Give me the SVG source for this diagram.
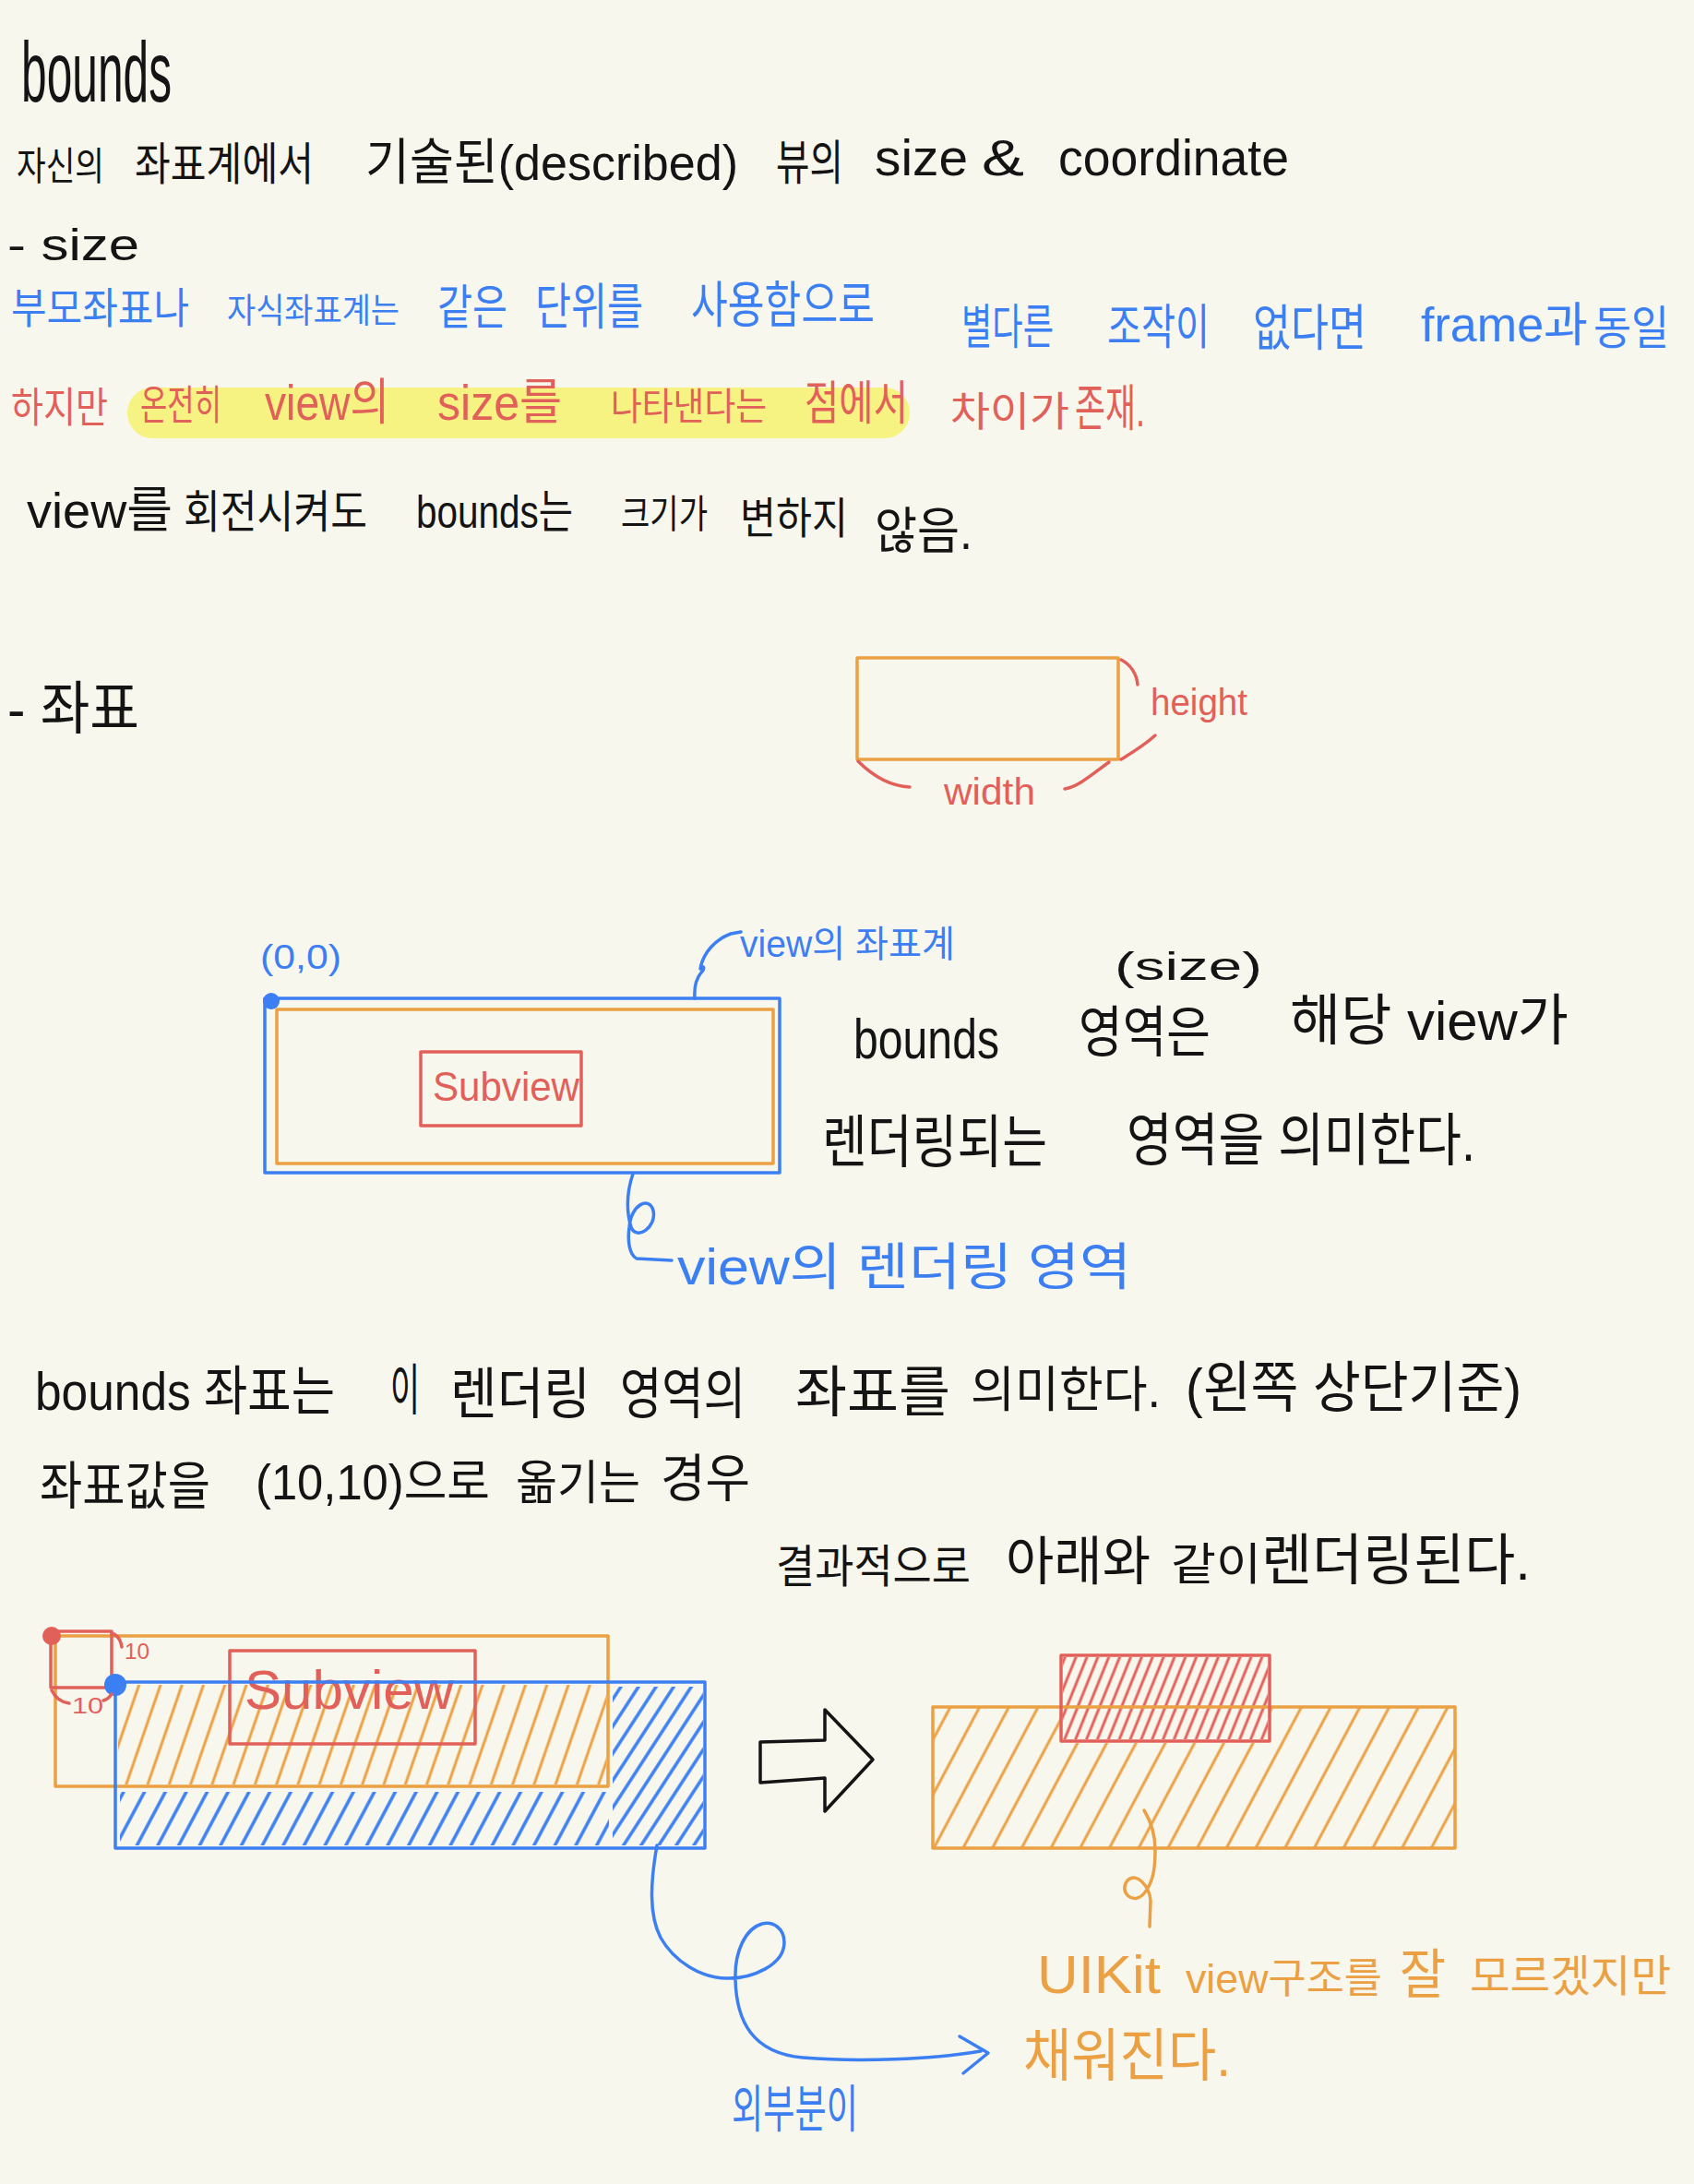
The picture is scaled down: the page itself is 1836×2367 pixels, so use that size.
<svg xmlns="http://www.w3.org/2000/svg" width="1836" height="2367" viewBox="0 0 1836 2367">
<style>
text{font-family:"Liberation Sans","Noto Sans CJK KR","Noto Sans",sans-serif;}
.k{fill:#141414}.b{fill:#3b7ff2}.r{fill:#e2605a}.o{fill:#eaa043}
.sb{fill:none;stroke:#3b7ff2;stroke-width:3.5;stroke-linecap:round;stroke-linejoin:round}
.sr{fill:none;stroke:#e2605a;stroke-width:3.5;stroke-linecap:round;stroke-linejoin:round}
.so{fill:none;stroke:#eaa043;stroke-width:3.5;stroke-linecap:round;stroke-linejoin:round}
.sk{fill:none;stroke:#141414;stroke-width:3.5;stroke-linecap:round;stroke-linejoin:round}
.hl{fill:#f6f383}
</style>
<defs>
<pattern id="hO1" patternUnits="userSpaceOnUse" width="22" height="200" patternTransform="rotate(19)"><line x1="11" y1="0" x2="11" y2="200" stroke="#eaa043" stroke-width="3"/></pattern>
<pattern id="hO2" patternUnits="userSpaceOnUse" width="28" height="200" patternTransform="rotate(28)"><line x1="14" y1="0" x2="14" y2="200" stroke="#eaa043" stroke-width="3"/></pattern>
<pattern id="hR" patternUnits="userSpaceOnUse" width="11" height="200" patternTransform="rotate(22)"><line x1="5" y1="0" x2="5" y2="200" stroke="#e2605a" stroke-width="3"/></pattern>
<pattern id="hB1" patternUnits="userSpaceOnUse" width="20" height="200" patternTransform="rotate(28)"><line x1="10" y1="0" x2="10" y2="200" stroke="#3b7ff2" stroke-width="3.5"/></pattern>
<pattern id="hB2" patternUnits="userSpaceOnUse" width="16" height="200" patternTransform="rotate(33)"><line x1="8" y1="0" x2="8" y2="200" stroke="#3b7ff2" stroke-width="3.5"/></pattern>
</defs>
<rect x="0" y="0" width="1836" height="2367" fill="#f8f7ed"/>

<g id="title">
<text class="k" x="23" y="110" font-size="92" textLength="163" lengthAdjust="spacingAndGlyphs">bounds</text>
</g>
<g id="line-definition">
<text class="k" font-size="54" y="195"><tspan x="18" font-size="42" textLength="95" lengthAdjust="spacingAndGlyphs">자신의</tspan><tspan x="146" font-size="49" textLength="194" lengthAdjust="spacingAndGlyphs">좌표계에서</tspan><tspan x="396" textLength="404" lengthAdjust="spacingAndGlyphs">기술된(described)</tspan><tspan x="841" font-size="52" textLength="73" lengthAdjust="spacingAndGlyphs">뷰의</tspan><tspan x="948" y="190" font-size="55" textLength="101" lengthAdjust="spacingAndGlyphs">size</tspan><tspan x="1064" y="190" font-size="55" textLength="46" lengthAdjust="spacingAndGlyphs">&amp;</tspan><tspan x="1147" y="190" font-size="55" textLength="250" lengthAdjust="spacingAndGlyphs">coordinate</tspan></text>
</g>
<g id="size-heading">
<text class="k" x="8" y="282" font-size="48" textLength="143" lengthAdjust="spacingAndGlyphs">- size</text>
</g>
<g id="size-blue">
<text class="b" font-size="52" y="350"><tspan x="12" font-size="46" textLength="193" lengthAdjust="spacingAndGlyphs">부모좌표나</tspan><tspan x="246" font-size="37" textLength="187" lengthAdjust="spacingAndGlyphs">자식좌표계는</tspan><tspan x="474" y="352" textLength="76" lengthAdjust="spacingAndGlyphs">같은</tspan><tspan x="580" y="352" font-size="54" textLength="117" lengthAdjust="spacingAndGlyphs">단위를</tspan><tspan x="749" y="350" font-size="54" textLength="199" lengthAdjust="spacingAndGlyphs">사용함으로</tspan><tspan x="1042" y="373" textLength="100" lengthAdjust="spacingAndGlyphs">별다른</tspan><tspan x="1200" y="373" textLength="111" lengthAdjust="spacingAndGlyphs">조작이</tspan><tspan x="1358" y="375" font-size="54" textLength="123" lengthAdjust="spacingAndGlyphs">없다면</tspan><tspan x="1540" y="370" font-size="51" textLength="181" lengthAdjust="spacingAndGlyphs">frame과</tspan><tspan x="1727" y="373" textLength="82" lengthAdjust="spacingAndGlyphs" font-size="50">동일</tspan></text>
</g>
<g id="size-red">
<rect class="hl" x="138" y="420" width="848" height="55" rx="27"/>
<text class="r" font-size="54" y="455"><tspan x="12" y="458" font-size="45" textLength="105" lengthAdjust="spacingAndGlyphs">하지만</tspan><tspan x="152" y="455" font-size="44" textLength="88" lengthAdjust="spacingAndGlyphs">온전히</tspan><tspan x="287" textLength="135" lengthAdjust="spacingAndGlyphs">view의</tspan><tspan x="474" textLength="135" lengthAdjust="spacingAndGlyphs">size를</tspan><tspan x="662" font-size="41" textLength="169" lengthAdjust="spacingAndGlyphs">나타낸다는</tspan><tspan x="872" font-size="51" textLength="112" lengthAdjust="spacingAndGlyphs">점에서</tspan><tspan x="1030" y="462" font-size="44" textLength="129" lengthAdjust="spacingAndGlyphs">차이가</tspan><tspan x="1165" y="462" textLength="76" lengthAdjust="spacingAndGlyphs">존재.</tspan></text>
</g>
<g id="rotate-line">
<text class="k" font-size="54" y="572"><tspan x="29" textLength="158" lengthAdjust="spacingAndGlyphs">view를</tspan><tspan x="199" font-size="49" textLength="199" lengthAdjust="spacingAndGlyphs">회전시켜도</tspan><tspan x="451" font-size="50" textLength="170" lengthAdjust="spacingAndGlyphs">bounds는</tspan><tspan x="673" font-size="42" textLength="94" lengthAdjust="spacingAndGlyphs">크기가</tspan><tspan x="802" y="578" font-size="47" textLength="117" lengthAdjust="spacingAndGlyphs">변하지</tspan><tspan x="948" y="595" textLength="106" lengthAdjust="spacingAndGlyphs">않음.</tspan></text>
</g>
<g id="coord-heading">
<text class="k" x="8" y="790" font-size="62" textLength="143" lengthAdjust="spacingAndGlyphs">- 좌표</text>
</g>

<g id="size-box">
<rect class="so" x="929" y="713" width="283" height="110" stroke-width="3"/>
<text class="r" x="1247" y="775" font-size="40" textLength="105" lengthAdjust="spacingAndGlyphs">height</text>
<text class="r" x="1023" y="872" font-size="40" textLength="99" lengthAdjust="spacingAndGlyphs">width</text>
</g>

<g id="view-diagram">
<rect class="sb" x="287" y="1082" width="558" height="189" stroke-width="3"/>
<rect class="so" x="300" y="1094" width="538" height="167" stroke-width="3"/>
<rect class="sr" x="456" y="1140" width="174" height="80" stroke-width="3"/>
<text class="r" x="469" y="1193" font-size="44" textLength="159" lengthAdjust="spacingAndGlyphs">Subview</text>
<circle cx="294" cy="1085" r="9" fill="#3b7ff2"/>
<text class="b" x="282" y="1050" font-size="36" textLength="88" lengthAdjust="spacingAndGlyphs">(0,0)</text>
<text class="b" x="802" y="1037" font-size="40" textLength="233" lengthAdjust="spacingAndGlyphs">view의 좌표계</text>
<text class="b" x="734" y="1392" font-size="55" textLength="492" lengthAdjust="spacingAndGlyphs">view의 렌더링 영역</text>
</g>
<g id="bounds-desc">
<text class="k" x="1208" y="1062" font-size="42" textLength="160" lengthAdjust="spacingAndGlyphs">(size)</text>
<text class="k" font-size="60" y="1140"><tspan x="925" y="1147" font-size="62" textLength="158" lengthAdjust="spacingAndGlyphs">bounds</tspan><tspan x="1169" y="1140" textLength="143" lengthAdjust="spacingAndGlyphs">영역은</tspan><tspan x="1398" y="1127" textLength="302" lengthAdjust="spacingAndGlyphs">해당 view가</tspan></text>
<text class="k" font-size="62" y="1260"><tspan x="891" textLength="244" lengthAdjust="spacingAndGlyphs">렌더링되는</tspan><tspan x="1221" y="1258" textLength="378" lengthAdjust="spacingAndGlyphs">영역을 의미한다.</tspan></text>
</g>

<g id="coord-desc">
<text class="k" font-size="60" y="1528"><tspan x="38" font-size="58" textLength="325" lengthAdjust="spacingAndGlyphs">bounds 좌표는</tspan><tspan x="423" textLength="32" lengthAdjust="spacingAndGlyphs">이</tspan><tspan x="488" y="1532" textLength="152" lengthAdjust="spacingAndGlyphs">렌더링</tspan><tspan x="672" y="1532" textLength="136" lengthAdjust="spacingAndGlyphs">영역의</tspan><tspan x="862" y="1530" textLength="168" lengthAdjust="spacingAndGlyphs">좌표를</tspan><tspan x="1052" y="1525" font-size="53" textLength="206" lengthAdjust="spacingAndGlyphs">의미한다.</tspan><tspan x="1285" y="1525" font-size="60" textLength="364" lengthAdjust="spacingAndGlyphs">(왼쪽 상단기준)</tspan></text>
<text class="k" font-size="56" y="1628"><tspan x="43" y="1630" textLength="185" lengthAdjust="spacingAndGlyphs">좌표값을</tspan><tspan x="277" y="1625" font-size="53" textLength="254" lengthAdjust="spacingAndGlyphs">(10,10)으로</tspan><tspan x="559" y="1625" font-size="51" textLength="135" lengthAdjust="spacingAndGlyphs">옮기는</tspan><tspan x="716" y="1622" textLength="97" lengthAdjust="spacingAndGlyphs">경우</tspan></text>
<text class="k" font-size="57" y="1712"><tspan x="841" y="1715" font-size="49" textLength="211" lengthAdjust="spacingAndGlyphs">결과적으로</tspan><tspan x="1090" y="1712" textLength="157" lengthAdjust="spacingAndGlyphs">아래와</tspan><tspan x="1269" font-size="48" textLength="98" lengthAdjust="spacingAndGlyphs">같이</tspan><tspan x="1367" font-size="60" textLength="292" lengthAdjust="spacingAndGlyphs">렌더링된다.</tspan></text>
</g>

<g id="before-diagram">
<rect x="128" y="1826" width="529" height="108" fill="url(#hO1)"/>
<rect x="130" y="1942" width="530" height="58" fill="url(#hB1)"/>
<rect x="664" y="1828" width="98" height="172" fill="url(#hB2)"/>
<rect class="so" x="60" y="1773" width="599" height="163" stroke-width="3"/>
<rect class="sr" x="249" y="1789" width="266" height="101" stroke-width="3"/>
<text class="r" x="265" y="1852" font-size="60" textLength="227" lengthAdjust="spacingAndGlyphs">Subview</text>
<rect class="sb" x="125" y="1823" width="639" height="180" stroke-width="3"/>
<rect class="sr" x="55" y="1768" width="66" height="61" stroke-width="3"/>
<circle cx="56" cy="1773" r="10" fill="#e2605a"/>
<circle cx="125" cy="1826" r="12" fill="#3b7ff2"/>
<path class="sr" d="M121,1770 C127,1772 131,1778 132,1785" stroke-width="2.5"/>
<text class="r" x="135" y="1798" font-size="24" textLength="27" lengthAdjust="spacingAndGlyphs">10</text>
<path class="sr" d="M56,1832 C60,1840 66,1845 75,1846 M112,1843 C116,1842 119,1839 121,1836" stroke-width="2.5"/>
<text class="r" x="78" y="1857" font-size="24" textLength="34" lengthAdjust="spacingAndGlyphs">10</text>
</g>

<g id="big-arrow">
<polygon class="sk" points="824,1888 894,1886 894,1853 946,1907 894,1963 894,1927 824,1932"/>
</g>

<g id="after-diagram">
<path d="M1011,1850 H1577 V2003 H1011 Z M1152,1850 H1376 V1889 H1152 Z" fill="url(#hO2)" fill-rule="evenodd"/>
<rect x="1152" y="1796" width="222" height="89" fill="url(#hR)"/>
<rect class="so" x="1011" y="1850" width="566" height="153" stroke-width="3"/>
<rect class="sr" x="1150" y="1794" width="226" height="93" stroke-width="3"/>
</g>

<g id="notes">
<text class="o" font-size="58" y="2160"><tspan x="1124" textLength="134" lengthAdjust="spacingAndGlyphs">UIKit</tspan><tspan x="1285" font-size="45" textLength="213" lengthAdjust="spacingAndGlyphs">view구조를</tspan><tspan x="1517" textLength="50" lengthAdjust="spacingAndGlyphs">잘</tspan><tspan x="1593" y="2158" font-size="47" textLength="218" lengthAdjust="spacingAndGlyphs">모르겠지만</tspan></text>
<text class="o" x="1109" y="2250" font-size="62" textLength="225" lengthAdjust="spacingAndGlyphs">채워진다.</text>
<text class="b" x="793" y="2305" font-size="55" textLength="137" lengthAdjust="spacingAndGlyphs">외부분이</text>
</g>

<g id="connectors">
<path class="sr" d="M1215,715 C1225,720 1232,730 1233,742" stroke-width="3"/>
<path class="sr" d="M1252,797 C1240,808 1228,815 1215,823" stroke-width="3"/>
<path class="sr" d="M930,825 C945,840 965,852 986,853" stroke-width="3"/>
<path class="sr" d="M1154,855 C1170,852 1185,838 1202,826" stroke-width="3"/>
<path class="sb" d="M753,1082 C752,1068 755,1060 760,1054 C765,1049 762,1045 759,1050 C762,1032 776,1018 792,1012 L803,1010" stroke-width="3"/>
<path class="sb" d="M686,1272 C680,1290 678,1310 684,1330 C690,1345 712,1330 708,1312 C704,1296 684,1305 682,1330 C680,1345 682,1360 690,1364 L728,1366" stroke-width="3"/>
<path class="so" d="M1240,1962 C1248,1975 1252,1990 1252,2005 C1252,2025 1250,2040 1240,2052 C1228,2066 1212,2050 1222,2038 C1232,2028 1246,2045 1247,2060 L1246,2088" stroke-width="3"/>
<path class="sb" d="M712,2000 C705,2040 703,2075 716,2100 C730,2125 760,2145 790,2144 C815,2144 850,2130 850,2105 C850,2090 838,2082 826,2085 C808,2090 796,2115 797,2145 C798,2190 815,2225 870,2230 C930,2235 1010,2232 1063,2223" stroke-width="3.5"/>
<path class="sb" d="M1040,2207 L1071,2225 L1044,2247" stroke-width="3.5"/>
</g>
</svg>
